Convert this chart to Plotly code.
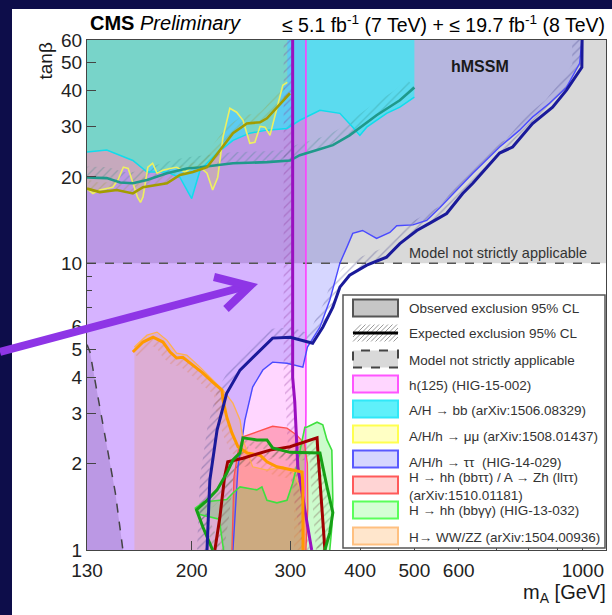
import numpy as np
import plotly.graph_objects as go

# ---------------- axis ranges ----------------
MA_MIN, MA_MAX = 130, 1100
TB_MIN, TB_MAX = 1, 60
TB_MODEL_LIMIT = 10

X_TICKS = [130, 200, 300, 400, 500, 600, 1000]
X_MINOR = [700, 800, 900]
Y_TICKS = [1, 2, 3, 4, 5, 6, 10, 20, 30, 40, 50, 60]
Y_MINOR = [7, 8, 9]

# ---------------- model-not-applicable curve (low m_A, low tanb) ----------------
NA_MA = [130, 131.6, 135.3, 140.6, 146.1, 150.7]
NA_TB = [5.2, 4.9, 3.61, 2.42, 1.58, 1.0]

# ---------------- h(125) couplings ----------------
H125_OBS_MA = [320, 320, 318]
H125_OBS_TB = [60, 3.0, 1.0]
H125_EXP_MA = [303, 303, 305.6, 309.5, 318.6, 327.7]
H125_EXP_TB = [60, 4.0, 3.3, 1.95, 1.38, 1.0]

# ---------------- A/H/h -> tau tau ----------------
TT_OBS_MA = [237, 242, 249, 257, 268, 279, 296, 316, 322, 339, 353, 368, 379, 388, 404,
             428, 452, 465, 497, 526, 555, 595, 636, 710, 771, 813, 872, 935, 987, 996]
TT_OBS_TB = [1.0, 1.95, 2.84, 3.70, 4.24, 4.52, 4.48, 4.34, 5.1, 5.98, 7.43, 10.0, 11.4, 12.7, 13.0,
             12.2, 12.8, 13.5, 13.6, 14.1, 15.6, 18.0, 20.6, 25.4, 29.1, 32.3, 36.1, 41.0, 49.8, 60]
TT_EXP_MA = [213, 215.5, 222, 231, 244, 261.5, 279, 300, 329, 343, 357.5, 368, 383, 411, 446,
             471, 505, 533, 571, 610, 636, 710, 749, 813, 883, 935, 996, 997]
TT_EXP_TB = [1.0, 1.75, 2.62, 3.52, 4.24, 4.86, 5.48, 5.52, 5.26, 5.98, 7.02, 8.25, 9.08, 9.84, 10.5,
             11.7, 13.0, 13.8, 14.9, 17.5, 19.0, 24.2, 25.4, 30.7, 35.0, 40.1, 48.2, 60]

# ---------------- A/H -> bb ----------------
BB_OBS_MA = [130, 141, 157, 166.4, 180.6, 190.6, 200, 207, 222, 237, 254, 272.6, 296, 312,
             339, 368, 388, 399.5, 411, 446, 471, 500]
BB_OBS_TB = [24.4, 24.8, 22.8, 20.8, 20.8, 19.9, 16.8, 21.1, 24.2, 26.8, 28.4, 29.1, 29.5, 31.5,
             34.1, 33.3, 29.8, 27.9, 29.8, 33.3, 35.0, 37.9]
BB_EXP_MA = [130, 141, 149, 157, 166.4, 180.6, 196, 207, 237, 272.6, 299.7, 312, 335, 357.5,
             383, 428, 471, 500]
BB_EXP_TB = [19.9, 19.8, 19.1, 19.0, 19.5, 20.6, 21.4, 21.6, 22.3, 22.5, 22.8, 23.8, 24.8, 25.8,
             27.9, 32.8, 37.0, 41.0]

# ---------------- A/H/h -> mu mu ----------------
MM_OBS_MA = [130, 133.2, 137, 141, 144.6, 147.6, 151, 154, 157, 160, 162, 163.7, 167, 170.3,
             173.4, 177.7, 183, 188, 194.5, 201, 207, 213, 218, 222.6, 227.5, 234, 240.6, 247,
             254, 259.4, 265, 270.4, 276, 283.9, 291, 296.4]
MM_OBS_TB = [18.2, 17.5, 18.0, 18.2, 18.4, 19.5, 21.6, 21.4, 19.0, 17.0, 16.3, 17.0, 21.6, 22.3,
             20.6, 21.1, 21.4, 21.6, 20.8, 21.6, 21.6, 20.6, 18.0, 19.9, 27.5, 34.7, 33.6, 31.5,
             26.2, 26.4, 30.0, 29.8, 27.9, 35.0, 41.7, 42.7]
MM_EXP_MA = [130, 137, 147, 157, 163.7, 173.4, 180.6, 190.6, 201, 213, 224.6, 237, 251, 265,
             272.6, 284, 299.7]
MM_EXP_TB = [18.2, 17.7, 18.0, 17.5, 18.4, 18.7, 19.0, 20.3, 20.8, 21.6, 24.8, 28.4, 30.7, 31.0,
             32.0, 35.0, 39.1]

# ---------------- H -> WW/ZZ ----------------
WW_OBS_MA = [158, 166.4, 173.4, 180.6, 188, 196, 207, 218, 227.5, 237, 244, 247, 257, 272.6,
             291, 303, 312, 318.6, 318.7]
WW_OBS_TB = [5.1, 5.61, 5.75, 5.39, 4.86, 4.78, 4.34, 3.91, 3.61, 3.25, 2.84, 2.42, 1.95, 1.90,
             1.95, 1.87, 1.66, 1.35, 1.0]
WW_EXP_MA = [157, 163.7, 170.6, 177.7, 183, 188, 192.8, 201, 209.5, 218, 226.5, 227.5, 231, 236,
             242, 251, 265, 272.6, 284, 303, 315, 316, 316.1, 316.2]
WW_EXP_TB = [4.9, 5.31, 5.52, 5.31, 4.9, 4.67, 4.70, 4.41, 4.14, 3.85, 3.61, 3.33, 2.91, 2.56,
             2.29, 2.18, 2.14, 2.03, 1.95, 1.90, 1.87, 1.66, 1.35, 1.0]

# ---------------- H -> hh (bb tautau) / A -> Zh (ll tautau) ----------------
HHTT_OBS_MA = [236, 238, 242, 247, 261.5, 279, 296, 308, 318, 322, 322.5, 320]
HHTT_OBS_TB = [1.0, 1.8, 2.2, 2.48, 2.58, 2.70, 2.66, 2.52, 2.35, 2.0, 1.4, 1.0]
HHTT_EXP_MA = [220, 224.6, 229, 232, 247, 276, 299.7, 335, 336, 339, 343, 346]
HHTT_EXP_TB = [1.0, 1.30, 1.80, 2.03, 2.09, 2.23, 2.29, 2.46, 2.23, 1.71, 1.30, 1.0]

# ---------------- H -> hh (bb gamma gamma) ----------------
HHGG_OBS_MA = [228, 224, 207, 203, 210, 231, 237, 244, 261.5, 267, 272.6, 284, 296, 303, 308,
               315, 318.6, 321, 335, 343, 349, 356, 357.5, 356, 353]
HHGG_OBS_TB = [1.0, 1.28, 1.33, 1.40, 1.47, 1.50, 1.58, 1.66, 1.62, 1.66, 1.49, 1.46, 1.49, 1.71,
               1.95, 2.42, 2.68, 2.68, 2.79, 2.73, 2.42, 2.23, 1.49, 1.20, 1.0]
HHGG_EXP_MA = [218, 209.5, 204, 213, 222, 231, 237, 244, 247, 261.5, 272.6, 279, 299.7, 339,
               349, 357.5, 353, 346]
HHGG_EXP_TB = [1.0, 1.2, 1.38, 1.49, 1.62, 1.85, 2.06, 2.18, 2.46, 2.42, 2.42, 2.27, 2.19, 2.18,
               1.66, 1.35, 1.15, 1.0]

# ---------------- legend entries ----------------
LEGEND_LABELS = [
    "Observed exclusion 95% CL",
    "Expected exclusion 95% CL",
    "Model not strictly applicable",
    "h(125) (HIG-15-002)",
    "A/H \u2192 bb (arXiv:1506.08329)",
    "A/H/h \u2192 \u03bc\u03bc (arXiv:1508.01437)",
    "A/H/h \u2192 \u03c4\u03c4  (HIG-14-029)",
    "H \u2192 hh (bb\u03c4\u03c4) / A \u2192 Zh (ll\u03c4\u03c4)<br>(arXiv:1510.01181)",
    "H \u2192 hh (bb\u03b3\u03b3) (HIG-13-032)",
    "H\u2192 WW/ZZ (arXiv:1504.00936)",
]

# ---------------- page geometry ----------------
W, H = 612, 615
ML, MR, MT, MB = 87, 6, 40, 65
PLOT_W, PLOT_H = W - ML - MR, H - MT - MB
PX_DEC_X = PLOT_W / (np.log10(MA_MAX) - np.log10(MA_MIN))
PX_DEC_Y = PLOT_H / (np.log10(TB_MAX) - np.log10(TB_MIN))
FONT = "Liberation Sans, Arial, Helvetica, sans-serif"


def px(x):
    return (x - ML) / PLOT_W


def py(y):
    return (H - MB - y) / PLOT_H


def offset_curve(ms, ts, dist, side):
    """Shift a curve sideways by dist screen pixels (side=+1: left of travel)."""
    X = np.log10(np.asarray(ms, float)) * PX_DEC_X
    Y = np.log10(np.asarray(ts, float)) * PX_DEC_Y
    P = np.column_stack([X, Y])
    tang = np.gradient(P, axis=0)
    tang /= np.linalg.norm(tang, axis=1)[:, None]
    nrm = np.column_stack([-tang[:, 1], tang[:, 0]])
    Q = P + side * dist * nrm
    return 10 ** (Q[:, 0] / PX_DEC_X), 10 ** (Q[:, 1] / PX_DEC_Y)


fig = go.Figure()


def fill(xs, ys, color):
    fig.add_trace(go.Scatter(x=xs, y=ys, mode="lines", fill="toself", fillcolor=color,
                             line=dict(width=0), hoverinfo="skip", showlegend=False))


def line(xs, ys, color, width, dash="solid"):
    fig.add_trace(go.Scatter(x=xs, y=ys, mode="lines", line=dict(color=color, width=width, dash=dash),
                             hoverinfo="skip", showlegend=False))


def hatch(ms, ts, dist, side, color):
    om, ot = offset_curve(ms, ts, dist, side)
    xs = list(ms) + list(om[::-1])
    ys = list(ts) + list(ot[::-1])
    fig.add_trace(go.Scatter(x=xs, y=ys, mode="lines", fill="toself", fillcolor="rgba(0,0,0,0)",
                             fillpattern=dict(shape="/", fgcolor=color, bgcolor="rgba(0,0,0,0)",
                                              size=6, solidity=0.22),
                             line=dict(width=0), hoverinfo="skip", showlegend=False))


# ---- model-not-applicable regions (grey) ----
fill([MA_MIN, MA_MAX, MA_MAX, MA_MIN], [TB_MODEL_LIMIT, TB_MODEL_LIMIT, TB_MAX, TB_MAX], "#d9d9d9")
fill(NA_MA + [MA_MIN], NA_TB + [TB_MIN], "#d9d9d9")

# ---- exclusion fills ----
fill([MA_MIN] + H125_OBS_MA[::-1] + [MA_MIN], [TB_MIN] + H125_OBS_TB[::-1] + [TB_MAX], "rgba(255,0,255,0.16)")
fill([MA_MIN] + TT_OBS_MA + [MA_MIN], [TB_MIN] + TT_OBS_TB + [TB_MAX], "rgba(0,0,255,0.16)")
fill([WW_OBS_MA[0]] + WW_OBS_MA, [TB_MIN] + WW_OBS_TB, "rgba(255,150,0,0.17)")
fill(HHTT_OBS_MA, HHTT_OBS_TB, "rgba(255,0,0,0.24)")
fill(HHGG_OBS_MA, HHGG_OBS_TB, "rgba(0,235,0,0.2)")
fill(BB_OBS_MA + [BB_OBS_MA[-1], MA_MIN], BB_OBS_TB + [TB_MAX, TB_MAX], "rgba(0,255,255,0.5)")
fill(MM_OBS_MA + [MM_OBS_MA[-1], MA_MIN], MM_OBS_TB + [TB_MAX, TB_MAX], "rgba(255,255,0,0.17)")

# ---- hatching on the excluded side of each expected limit ----
hatch(TT_EXP_MA, TT_EXP_TB, 10, +1, "rgba(70,70,140,0.75)")
hatch(H125_EXP_MA, H125_EXP_TB, 9, -1, "rgba(140,50,150,0.7)")
hatch(BB_EXP_MA, BB_EXP_TB, 11, +1, "rgba(40,130,120,0.6)")
hatch(MM_EXP_MA, MM_EXP_TB, 9, +1, "rgba(150,150,40,0.6)")
hatch(WW_EXP_MA, WW_EXP_TB, 9, -1, "rgba(220,120,60,0.7)")
hatch(HHTT_EXP_MA, HHTT_EXP_TB, 9, -1, "rgba(110,60,60,0.65)")
hatch(HHGG_EXP_MA, HHGG_EXP_TB, 9, -1, "rgba(60,110,60,0.65)")

# ---- boundaries ----
line([MA_MIN, MA_MAX], [TB_MODEL_LIMIT, TB_MODEL_LIMIT], "#555555", 1.5, "dash")
line(NA_MA, NA_TB, "#444444", 1.5, "dash")
line(BB_OBS_MA, BB_OBS_TB, "#10dcec", 1.5)
line(MM_OBS_MA, MM_OBS_TB, "#eef060", 1.6)
line(H125_OBS_MA, H125_OBS_TB, "#ff40ff", 1.6)
line(TT_OBS_MA, TT_OBS_TB, "#4a4aff", 1.4)
line(WW_OBS_MA, WW_OBS_TB, "#ffb050", 1.3)
line(HHTT_OBS_MA, HHTT_OBS_TB, "#ff5050", 1.3)
line(HHGG_OBS_MA, HHGG_OBS_TB, "#3fe03f", 1.6)

line(BB_EXP_MA, BB_EXP_TB, "#1f998b", 2.6)
line(MM_EXP_MA, MM_EXP_TB, "#a39c00", 2.6)
line(H125_EXP_MA, H125_EXP_TB, "#9a10c0", 3)
line(WW_EXP_MA, WW_EXP_TB, "#ff9a00", 3)
line(HHTT_EXP_MA, HHTT_EXP_TB, "#a00000", 3)
line(HHGG_EXP_MA, HHGG_EXP_TB, "#16a016", 3)
line(TT_EXP_MA, TT_EXP_TB, "#1a1a9a", 3)

# ---------------- axes ----------------
axis_font = dict(family=FONT, size=19, color="#222222")
fig.update_xaxes(type="log", range=[np.log10(MA_MIN), np.log10(MA_MAX)],
                 tickvals=X_TICKS, ticktext=[str(v) for v in X_TICKS],
                 ticks="inside", ticklen=9, tickcolor="#444", tickfont=axis_font,
                 ticklabelstandoff=3,
                 minor=dict(tickvals=X_MINOR, ticks="inside", ticklen=5, tickcolor="#444"),
                 showgrid=False, zeroline=False, showline=True, mirror=True,
                 linecolor="#444", linewidth=1)
fig.update_yaxes(type="log", range=[np.log10(TB_MIN), np.log10(TB_MAX)],
                 tickvals=Y_TICKS, ticktext=[str(v) for v in Y_TICKS],
                 ticks="inside", ticklen=9, tickcolor="#444", tickfont=axis_font,
                 minor=dict(tickvals=Y_MINOR, ticks="inside", ticklen=5, tickcolor="#444"),
                 showgrid=False, zeroline=False, showline=True, mirror=True,
                 linecolor="#444", linewidth=1)

# ---------------- decorations: slide border, legend box, arrow ----------------
shapes = []
NAVY = "#0d0d4a"
shapes.append(dict(type="rect", xref="paper", yref="paper", x0=px(0), x1=px(12), y0=py(H), y1=py(0),
                   fillcolor=NAVY, line=dict(width=0), layer="below"))
shapes.append(dict(type="rect", xref="paper", yref="paper", x0=px(0), x1=px(W), y0=py(9), y1=py(0),
                   fillcolor=NAVY, line=dict(width=0), layer="below"))

# legend frame
shapes.append(dict(type="rect", xref="paper", yref="paper", x0=px(343), x1=px(605), y0=py(548), y1=py(295),
                   fillcolor="white", line=dict(color="#555", width=1.5), layer="above"))

ROW_Y = [308, 333, 359, 384, 409, 434, 459, 485, 510, 536]
TEXT_Y = [308, 333, 360, 385, 410, 436, 462, 486, 510, 537]
SW_FILL = ["#c6c6c6", None, "#d9d9d9", "#ffd6ff", "#5ff0fa", "#ffffc4", "#d6d6ff", "#ffd4d4", "#d4ffd4", "#ffe6cc"]
SW_EDGE = ["#555555", None, "#444444", "#ff55ff", "#30e8f8", "#ffff50", "#5a5aff", "#ff5a5a", "#5aff5a", "#ffc080"]
SX0, SX1, SH = 353, 398, 8.5
for i, yc in enumerate(ROW_Y):
    if i == 1:
        # hatched band with a thick line
        for k in range(-2, 11):
            xa, xb = SX0 + k * 4.5, SX0 + k * 4.5 + 2 * SH
            ya, yb = yc + SH, yc - SH
            if xa < SX0:
                ya -= (SX0 - xa); xa = SX0
            if xb > SX1:
                yb += (xb - SX1); xb = SX1
            if xb > xa:
                shapes.append(dict(type="line", xref="paper", yref="paper", x0=px(xa), y0=py(ya),
                                   x1=px(xb), y1=py(yb), line=dict(color="#9a9a9a", width=1), layer="above"))
        shapes.append(dict(type="line", xref="paper", yref="paper", x0=px(SX0), y0=py(yc), x1=px(SX1),
                           y1=py(yc), line=dict(color="black", width=3), layer="above"))
        continue
    shapes.append(dict(type="rect", xref="paper", yref="paper", x0=px(SX0), x1=px(SX1),
                       y0=py(yc + SH), y1=py(yc - SH), fillcolor=SW_FILL[i],
                       line=dict(color=SW_EDGE[i], width=2, dash="dash" if i == 2 else "solid"),
                       layer="above"))

# purple arrow
ARROW = "#8e35e6"
shapes.append(dict(type="line", xref="paper", yref="paper", x0=px(0), y0=py(352), x1=px(247), y1=py(286),
                   line=dict(color=ARROW, width=8), layer="above"))
shapes.append(dict(type="path", xref="paper", yref="paper",
                   path=f"M {px(214)},{py(277)} L {px(250)},{py(286)} L {px(226)},{py(309)}",
                   line=dict(color=ARROW, width=8), layer="above"))

# ---------------- text ----------------
ann = []


def text(s, x, y, size, xanchor="left", yanchor="middle", angle=0, color="#1a1a1a"):
    ann.append(dict(text=s, x=px(x), y=py(y), xref="paper", yref="paper", showarrow=False,
                    xanchor=xanchor, yanchor=yanchor, textangle=angle, align="left",
                    font=dict(family=FONT, size=size, color=color)))


text("<b>CMS</b> <i>Preliminary</i>", 88, 23, 20, color="black")
text("\u2264 5.1 fb<sup>-1</sup> (7 TeV) + \u2264 19.7 fb<sup>-1</sup> (8 TeV)", 607, 24, 19.5,
     xanchor="right", color="black")
text("tan\u03b2", 33, 61, 19, angle=-90, yanchor="middle")
text("m<sub>A</sub> [GeV]", 608, 593, 20, xanchor="right")
text("<b>hMSSM</b>", 480, 66, 16, xanchor="center")
text("Model not strictly applicable", 589, 253, 14.5, xanchor="right", color="#333")
for lab, yc in zip(LEGEND_LABELS, TEXT_Y):
    text(lab, 407, yc, 13.5, color="#333")

fig.update_layout(width=W, height=H, margin=dict(l=ML, r=MR, t=MT, b=MB, pad=0),
                  paper_bgcolor="white", plot_bgcolor="white", showlegend=False,
                  shapes=shapes, annotations=ann, font=dict(family=FONT, color="#222"))

fig.write_html("out.html")
